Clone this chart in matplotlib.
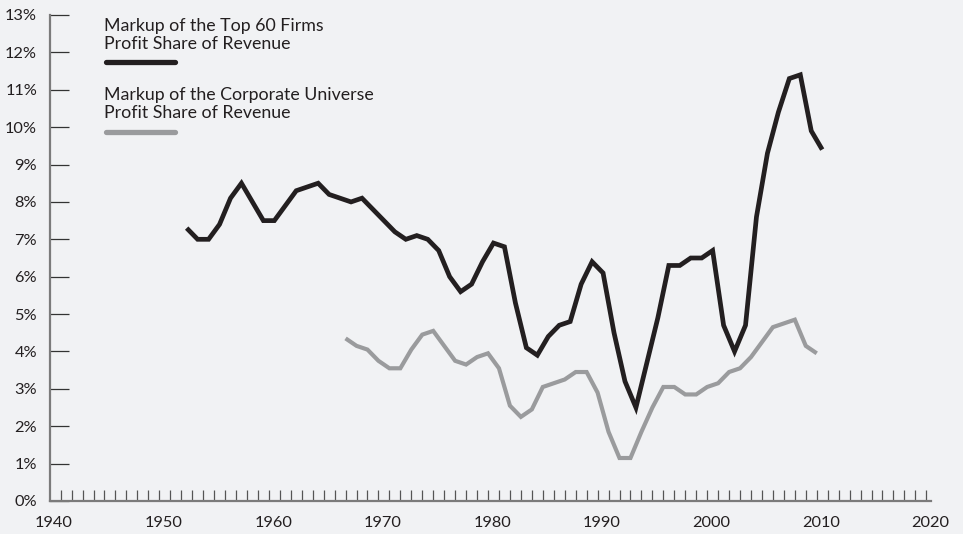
import matplotlib
matplotlib.use("Agg")
import matplotlib.pyplot as plt
from matplotlib.lines import Line2D
from matplotlib.ticker import FixedLocator

plt.rcParams['font.family'] = ['Lato', 'DejaVu Sans']

# ---- data ----
top60_years = list(range(1952, 2011))
top60_values = [7.3, 7.0, 7.0, 7.4, 8.1, 8.5, 8.0, 7.5, 7.5, 7.9,
                8.3, 8.4, 8.5, 8.2, 8.1, 8.0, 8.1, 7.8, 7.5, 7.2,
                7.0, 7.1, 7.0, 6.7, 6.0, 5.6, 5.8, 6.4, 6.9, 6.8,
                5.3, 4.1, 3.9, 4.4, 4.7, 4.8, 5.8, 6.4, 6.1, 4.5,
                3.2, 2.5, 3.7, 4.9, 6.3, 6.3, 6.5, 6.5, 6.7, 4.7,
                4.0, 4.7, 7.6, 9.3, 10.4, 11.3, 11.4, 9.9, 9.4]
corp_years = list(range(1967, 2011))
corp_values = [4.35, 4.15, 4.05, 3.75, 3.55, 3.55, 4.05, 4.45, 4.55, 4.15,
               3.75, 3.65, 3.85, 3.95, 3.55, 2.55, 2.25, 2.45, 3.05, 3.15,
               3.25, 3.45, 3.45, 2.9, 1.85, 1.15, 1.15, 1.85, 2.5, 3.05,
               3.05, 2.85, 2.85, 3.05, 3.15, 3.45, 3.55, 3.85, 4.25, 4.65,
               4.75, 4.85, 4.15, 3.95]
x_labels = [1940, 1950, 1960, 1970, 1980, 1990, 2000, 2010, 2020]
y_ticks = list(range(0, 14))
legend_labels = ["Markup of the Top 60 Firms\nProfit Share of Revenue",
                 "Markup of the Corporate Universe\nProfit Share of Revenue"]

# ---- style ----
W, H = 963, 534
BG = '#f1f2f4'
BLACK = '#231f20'
GRAY = '#9a9b9d'
TXT = '#231f20'

fig = plt.figure(figsize=(W / 100, H / 100), dpi=100, facecolor=BG)
left, right, bottom, top = 49.7, 930.7, 501, 15
ax = fig.add_axes([left / W, 1 - bottom / H, (right - left) / W, (bottom - top) / H])
ax.set_facecolor(BG)

ax.plot([y + 0.5 for y in top60_years], top60_values, color=BLACK, lw=3.4,
        solid_joinstyle='miter', solid_capstyle='butt', zorder=3)
ax.plot(corp_years, corp_values, color=GRAY, lw=3.0,
        solid_joinstyle='miter', solid_capstyle='butt', zorder=2)

ax.set_xlim(1940, 2020)
ax.set_ylim(0, 13)

for s in ['top', 'right']:
    ax.spines[s].set_visible(False)
for s in ['left', 'bottom']:
    ax.spines[s].set_color('#7b7b7b')
    ax.spines[s].set_linewidth(1.6)

ax.set_yticks(y_ticks)
ax.set_yticklabels([f"{v}%" for v in y_ticks])
ax.tick_params(axis='y', direction='in', length=14, width=0.9, color='#333333',
               labelsize=11.8, labelcolor=TXT, pad=9)

ax.set_xticks([x + 0.4 for x in x_labels])
ax.set_xticklabels([str(x) for x in x_labels])
ax.xaxis.set_minor_locator(FixedLocator(list(range(1941, 2021))))
ax.tick_params(axis='x', which='major', length=0, labelsize=11.8, labelcolor=TXT, pad=11)
ax.tick_params(axis='x', which='minor', direction='in', length=8, width=0.9, color='#555555')

def fx(x):
    return x / W

def fy(y):
    return 1 - y / H

fig.text(fx(104), fy(49), legend_labels[0], fontsize=12.8, color=TXT,
         ha='left', va='baseline', linespacing=1.18)
fig.add_artist(Line2D([fx(106), fx(175)], [fy(62), fy(62)], color=BLACK, lw=3.8,
                      solid_capstyle='round', transform=fig.transFigure))
fig.text(fx(104), fy(118), legend_labels[1], fontsize=12.8, color=TXT,
         ha='left', va='baseline', linespacing=1.18)
fig.add_artist(Line2D([fx(106), fx(175)], [fy(132), fy(132)], color=GRAY, lw=3.8,
                      solid_capstyle='round', transform=fig.transFigure))

fig.savefig('out.png', dpi=100, facecolor=BG)
